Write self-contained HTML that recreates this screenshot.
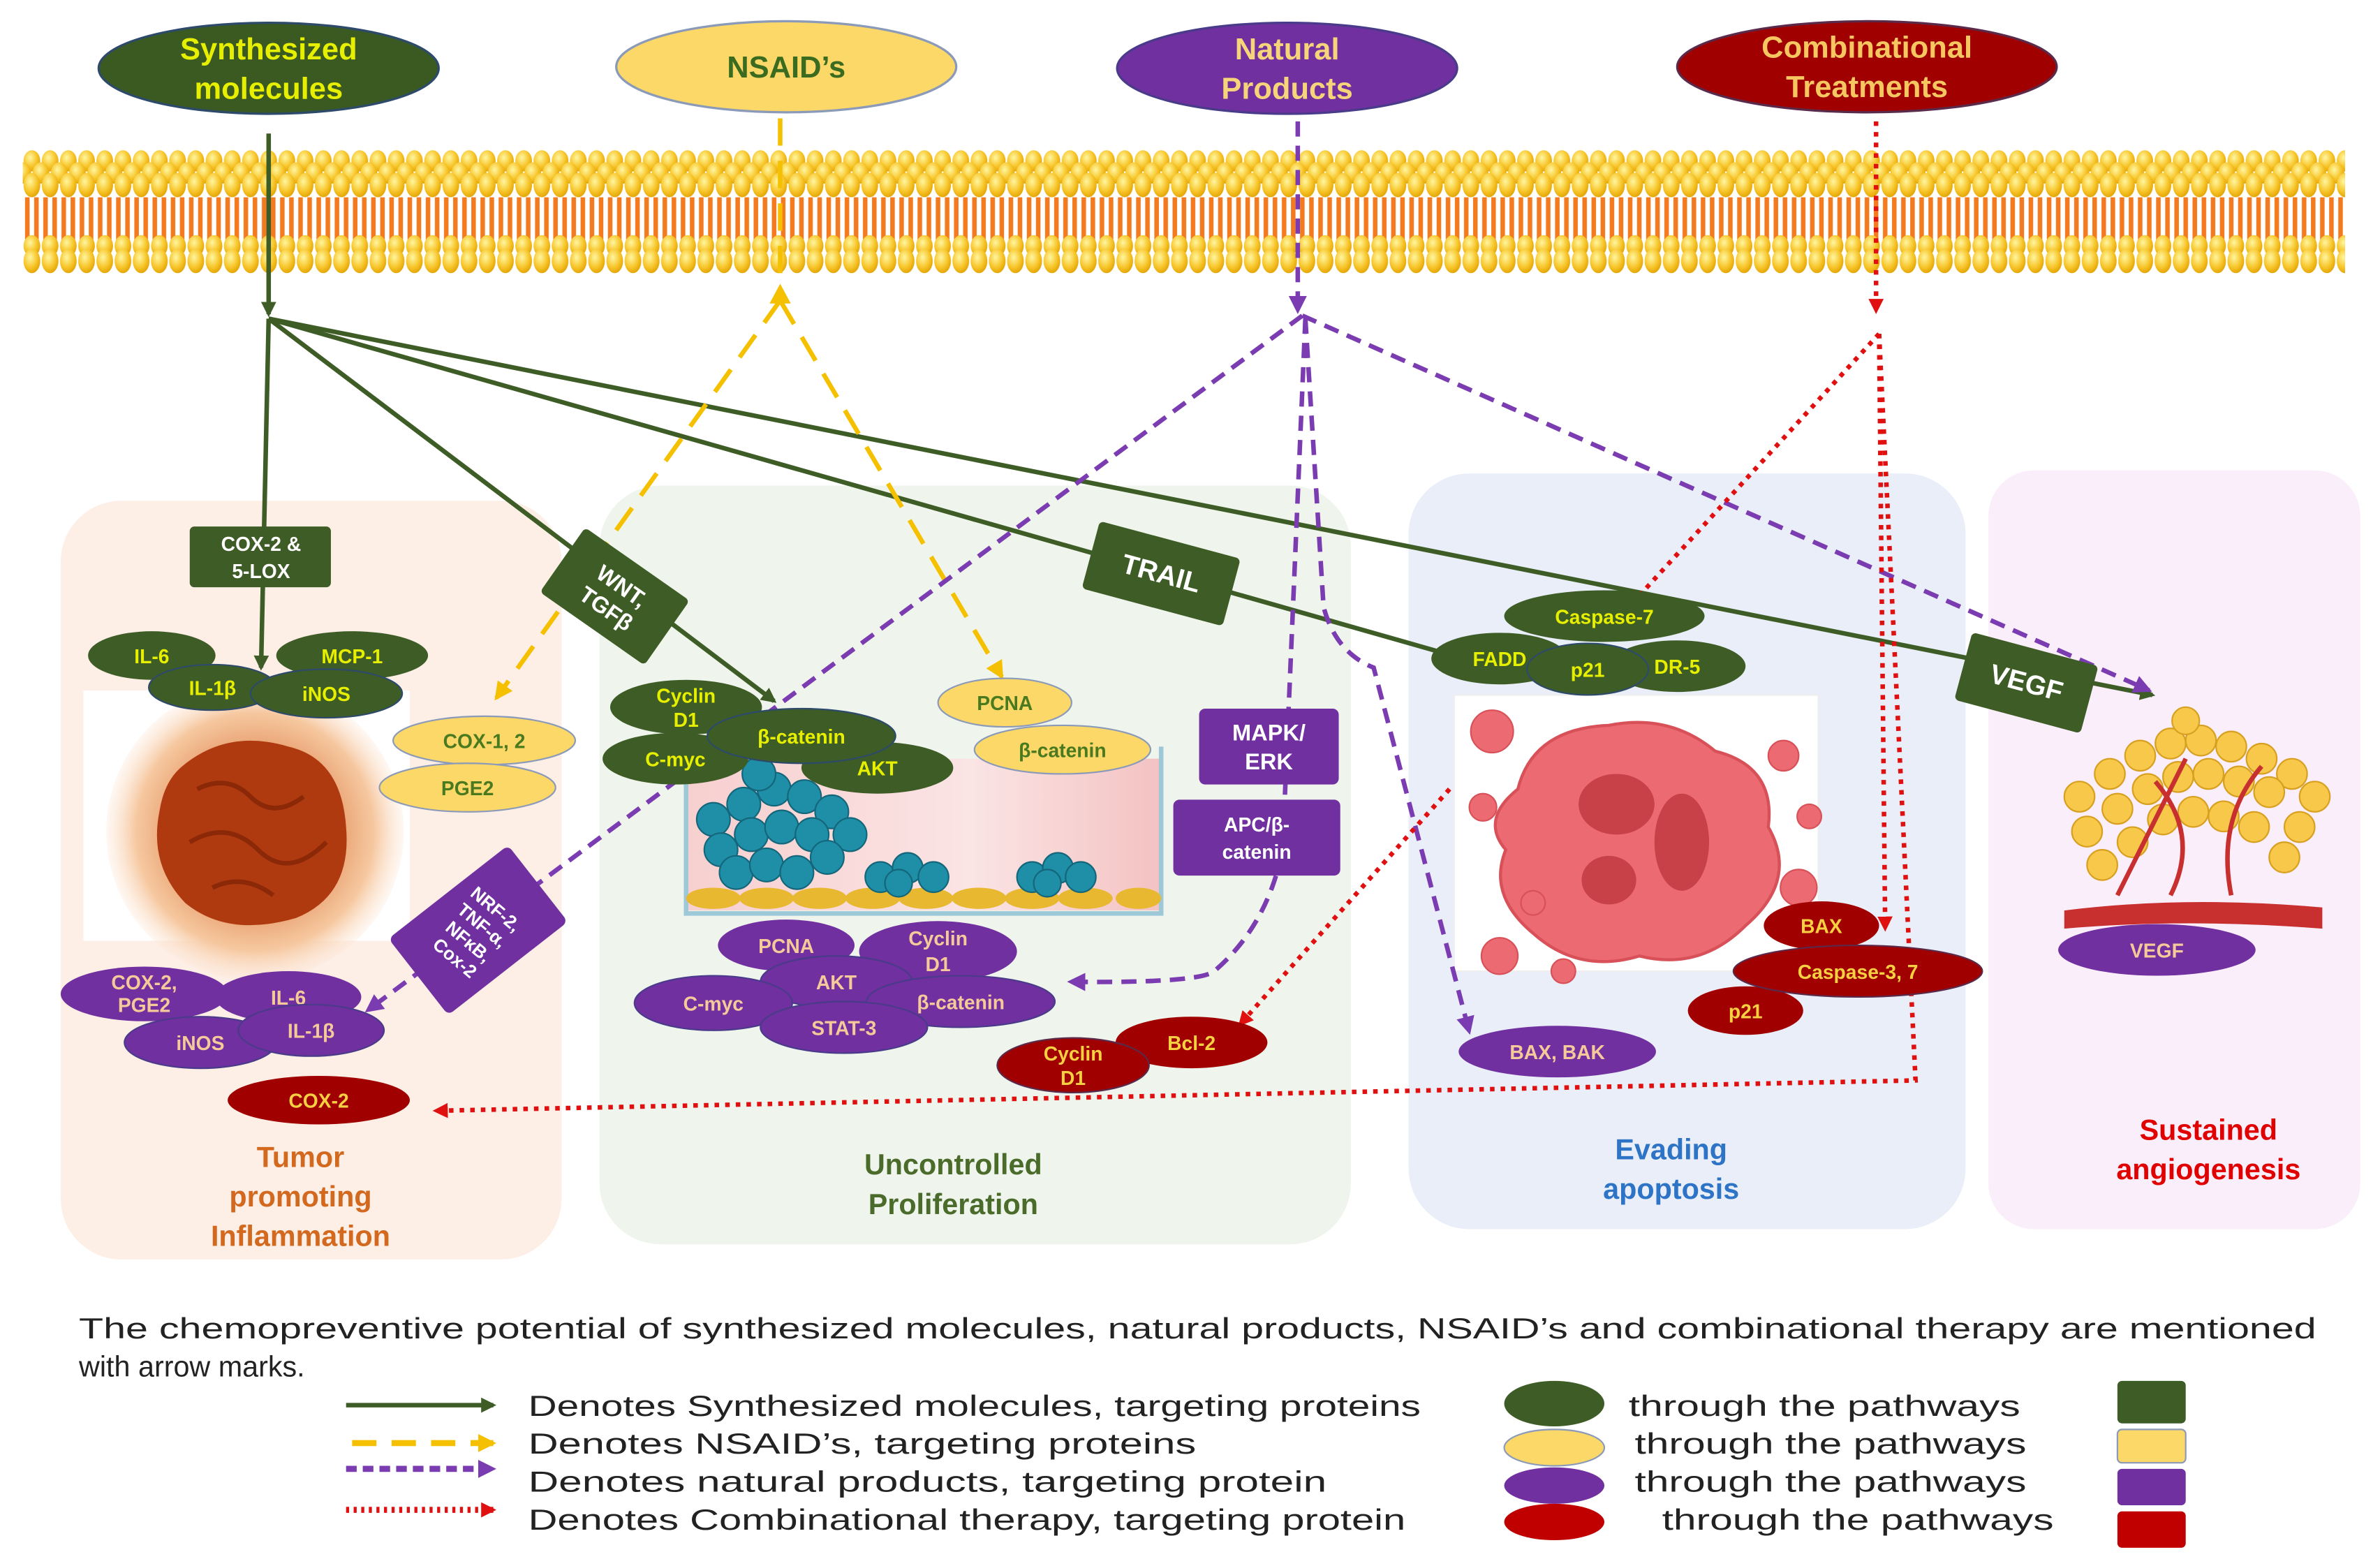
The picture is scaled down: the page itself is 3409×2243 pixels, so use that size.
<!DOCTYPE html>
<html><head><meta charset="utf-8"><style>
html,body{margin:0;padding:0;background:#fff;}
svg{display:block;}
text{font-family:"Liberation Sans",sans-serif;}
</style></head><body>
<svg width="3409" height="2243" viewBox="0 0 1568 1032" preserveAspectRatio="none" xmlns="http://www.w3.org/2000/svg">
<defs>
<radialGradient id="head" cx="0.4" cy="0.35" r="0.7"><stop offset="0" stop-color="#fff6a0"/><stop offset="0.6" stop-color="#f7c52a"/><stop offset="1" stop-color="#e0a000"/></radialGradient>
<pattern id="heads" x="15" y="0" width="12" height="400" patternUnits="userSpaceOnUse">
<ellipse cx="6" cy="106" rx="5.5" ry="7" fill="url(#head)"/>
<ellipse cx="0" cy="114" rx="5.5" ry="7" fill="url(#head)"/><ellipse cx="12" cy="114" rx="5.5" ry="7" fill="url(#head)"/>
<ellipse cx="6" cy="122" rx="5.5" ry="8" fill="url(#head)"/>
<line x1="3" y1="130" x2="3" y2="160" stroke="#f47a20" stroke-width="3"/><line x1="9" y1="130" x2="9" y2="160" stroke="#f47a20" stroke-width="3"/>
<ellipse cx="6" cy="162" rx="5.5" ry="7" fill="url(#head)"/>
<ellipse cx="6" cy="172" rx="5.5" ry="8" fill="url(#head)"/>
</pattern>
<radialGradient id="tum" cx="0.5" cy="0.5" r="0.5"><stop offset="0.55" stop-color="#e8a070"/><stop offset="0.8" stop-color="#f6c8a0"/><stop offset="1" stop-color="#fde6d4" stop-opacity="0.3"/></radialGradient>
<linearGradient id="dish" x1="0" x2="1"><stop offset="0" stop-color="#f7cfcf"/><stop offset="0.6" stop-color="#fbe4e4"/><stop offset="1" stop-color="#f4c2c2"/></linearGradient>
<marker id="ag" markerWidth="10" markerHeight="10" refX="8" refY="5" orient="auto" markerUnits="userSpaceOnUse"><path d="M0,0 L10,5 L0,10 z" fill="#3e5c26"/></marker>
<marker id="ay" markerWidth="12" markerHeight="12" refX="10" refY="6" orient="auto" markerUnits="userSpaceOnUse"><path d="M0,0 L12,6 L0,12 z" fill="#f5c000"/></marker>
<marker id="ap" markerWidth="12" markerHeight="12" refX="10" refY="6" orient="auto" markerUnits="userSpaceOnUse"><path d="M0,0 L12,6 L0,12 z" fill="#7a3cb0"/></marker>
<marker id="ar" markerWidth="10" markerHeight="10" refX="8" refY="5" orient="auto" markerUnits="userSpaceOnUse"><path d="M0,0 L10,5 L0,10 z" fill="#e01010"/></marker>
</defs>

<!-- panels -->
<rect x="40" y="330" width="330" height="500" rx="40" fill="#fdeee6"/>
<rect x="395" y="320" width="495" height="500" rx="40" fill="#eff5ec"/>
<rect x="928" y="312" width="367" height="498" rx="40" fill="#e9eef8"/>
<rect x="1310" y="310" width="245" height="500" rx="30" fill="#fbeefb"/>

<!-- membrane -->
<rect x="15" y="96" width="1530" height="88" fill="url(#heads)"/>

<!-- top ellipses -->
<ellipse cx="177" cy="45" rx="112" ry="30" fill="#3b5a22" stroke="#2d4a6a" stroke-width="1.5"/>
<text x="177" y="39" text-anchor="middle" font-size="20" font-weight="bold" fill="#e6ef00">Synthesized</text>
<text x="177" y="65" text-anchor="middle" font-size="20" font-weight="bold" fill="#e6ef00">molecules</text>
<ellipse cx="518" cy="44" rx="112" ry="30" fill="#fbd868" stroke="#8a9ab8" stroke-width="1.5"/>
<text x="518" y="51" text-anchor="middle" font-size="20" font-weight="bold" fill="#3b6b1f">NSAID’s</text>
<ellipse cx="848" cy="45" rx="112" ry="30" fill="#7030a0" stroke="#4a3a8a" stroke-width="1.5"/>
<text x="848" y="39" text-anchor="middle" font-size="20" font-weight="bold" fill="#f6d57a">Natural</text>
<text x="848" y="65" text-anchor="middle" font-size="20" font-weight="bold" fill="#f6d57a">Products</text>
<ellipse cx="1230" cy="44" rx="125" ry="30" fill="#a00000" stroke="#5a2a4a" stroke-width="1.5"/>
<text x="1230" y="38" text-anchor="middle" font-size="20" font-weight="bold" fill="#f6c760">Combinational</text>
<text x="1230" y="64" text-anchor="middle" font-size="20" font-weight="bold" fill="#f6c760">Treatments</text>

<!-- illustrations -->
<rect x="55" y="455" width="215" height="165" fill="#fff"/>
<circle cx="168" cy="548" r="98" fill="url(#tum)"/>
<path d="M120,505 Q150,480 190,492 Q225,500 228,545 Q232,590 195,605 Q150,618 122,595 Q98,570 105,535 Q108,515 120,505z" fill="#b03a10"/>
<path d="M130,520 q20,-10 35,5 t35,0 M125,555 q25,-15 45,5 t45,-5 M140,585 q20,-10 40,5" stroke="#8a2808" stroke-width="3" fill="none"/>

<rect x="452" y="500" width="313" height="100" fill="url(#dish)"/>
<path d="M452,492 V602 H765 V492" fill="none" stroke="#9cc8d8" stroke-width="3"/>
<g fill="#e8b830"><ellipse cx="470" cy="592" rx="18" ry="7"/><ellipse cx="505" cy="592" rx="18" ry="7"/><ellipse cx="540" cy="592" rx="18" ry="7"/><ellipse cx="575" cy="592" rx="18" ry="7"/><ellipse cx="610" cy="592" rx="18" ry="7"/><ellipse cx="645" cy="592" rx="18" ry="7"/><ellipse cx="680" cy="592" rx="18" ry="7"/><ellipse cx="715" cy="592" rx="18" ry="7"/><ellipse cx="750" cy="592" rx="15" ry="7"/></g>
<g fill="#1f8fa8" stroke="#14667a" stroke-width="1">
<circle cx="470" cy="540" r="11"/><circle cx="490" cy="530" r="11"/><circle cx="510" cy="520" r="11"/><circle cx="530" cy="525" r="11"/><circle cx="548" cy="535" r="11"/><circle cx="560" cy="550" r="11"/>
<circle cx="475" cy="560" r="11"/><circle cx="495" cy="550" r="11"/><circle cx="515" cy="545" r="11"/><circle cx="535" cy="550" r="11"/><circle cx="545" cy="565" r="11"/>
<circle cx="485" cy="575" r="11"/><circle cx="505" cy="570" r="11"/><circle cx="525" cy="575" r="11"/><circle cx="500" cy="510" r="11"/>
<circle cx="580" cy="578" r="10"/><circle cx="598" cy="572" r="10"/><circle cx="615" cy="578" r="10"/><circle cx="592" cy="582" r="9"/>
<circle cx="680" cy="578" r="10"/><circle cx="697" cy="572" r="10"/><circle cx="712" cy="578" r="10"/><circle cx="690" cy="582" r="9"/>
</g>

<rect x="958" y="458" width="240" height="182" fill="#fff" stroke="#eee"/>
<path d="M1000,520 Q1010,480 1060,478 Q1100,470 1130,495 Q1170,505 1165,545 Q1185,580 1150,610 Q1120,640 1080,630 Q1040,642 1010,615 Q980,590 992,560 Q975,540 1000,520z" fill="#ec6a72" stroke="#d85058" stroke-width="2"/>
<ellipse cx="1065" cy="530" rx="25" ry="20" fill="#c84048"/><ellipse cx="1108" cy="555" rx="18" ry="32" fill="#c84048"/><ellipse cx="1060" cy="580" rx="18" ry="16" fill="#c84048"/>
<g fill="#ec6a72" stroke="#d85058"><circle cx="983" cy="482" r="14"/><circle cx="977" cy="532" r="9"/><circle cx="988" cy="630" r="12"/><circle cx="1030" cy="640" r="8"/><circle cx="1185" cy="585" r="12"/><circle cx="1192" cy="538" r="8"/><circle cx="1175" cy="498" r="10"/><circle cx="1010" cy="595" r="8"/></g>

<path d="M1360,600 Q1440,590 1530,598 L1530,612 Q1440,605 1360,612z" fill="#c83030"/>
<g fill="#f7c84a" stroke="#d8a020">
<circle cx="1370" cy="525" r="10"/><circle cx="1390" cy="510" r="10"/><circle cx="1410" cy="498" r="10"/><circle cx="1430" cy="490" r="10"/><circle cx="1450" cy="488" r="10"/><circle cx="1470" cy="492" r="10"/><circle cx="1490" cy="500" r="10"/><circle cx="1510" cy="510" r="10"/><circle cx="1525" cy="525" r="10"/>
<circle cx="1375" cy="548" r="10"/><circle cx="1395" cy="533" r="10"/><circle cx="1415" cy="520" r="10"/><circle cx="1435" cy="512" r="10"/><circle cx="1455" cy="510" r="10"/><circle cx="1475" cy="515" r="10"/><circle cx="1495" cy="522" r="10"/><circle cx="1515" cy="545" r="10"/>
<circle cx="1385" cy="570" r="10"/><circle cx="1405" cy="555" r="10"/><circle cx="1425" cy="540" r="10"/><circle cx="1445" cy="535" r="10"/><circle cx="1465" cy="538" r="10"/><circle cx="1485" cy="545" r="10"/><circle cx="1505" cy="565" r="10"/><circle cx="1440" cy="475" r="9"/>
</g>
<path d="M1395,590 Q1420,540 1440,500 M1470,590 Q1460,540 1490,505 M1430,590 Q1450,550 1420,515" stroke="#c83030" stroke-width="3" fill="none"/>

<!-- green arrows -->
<g stroke="#3e5c26" stroke-width="3" fill="none">
<line x1="177" y1="88" x2="177" y2="207" marker-end="url(#ag)"/>
<line x1="177" y1="210" x2="172" y2="440" marker-end="url(#ag)"/>
<line x1="177" y1="210" x2="510" y2="462" marker-end="url(#ag)"/>
<line x1="177" y1="210" x2="1418" y2="458" marker-end="url(#ag)"/>
<line x1="177" y1="210" x2="950" y2="430"/>
</g>
<!-- yellow -->
<g stroke="#f5c000" stroke-width="3" fill="none" stroke-dasharray="18,10">
<line x1="514" y1="78" x2="514" y2="190"/>
<line x1="514" y1="198" x2="327" y2="460" marker-end="url(#ay)"/>
<line x1="514" y1="198" x2="660" y2="446" marker-end="url(#ay)"/>
</g>
<path d="M507,200 L514,187 L521,200z" fill="#f5c000"/>
<!-- purple -->
<g stroke="#7a3cb0" stroke-width="3" fill="none" stroke-dasharray="10,6">
<line x1="855" y1="80" x2="855" y2="205" marker-end="url(#ap)"/>
<line x1="858" y1="208" x2="242" y2="666" marker-end="url(#ap)"/>
<line x1="858" y1="208" x2="1416" y2="455" marker-end="url(#ap)"/>
<path d="M860,210 L872,400 Q880,430 905,440 L968,680" marker-end="url(#ap)"/>
<path d="M860,210 L845,560 Q835,610 800,640 Q790,648 705,647" marker-end="url(#ap)"/>
</g>
<!-- red -->
<g stroke="#e01010" stroke-width="3" fill="none" stroke-dasharray="3,4">
<line x1="1236" y1="80" x2="1236" y2="205" marker-end="url(#ar)"/>
<line x1="1238" y1="220" x2="1075" y2="398"/>
<line x1="1238" y1="220" x2="1242" y2="612" marker-end="url(#ar)"/>
<path d="M1238,220 L1262,712 L287,732" marker-end="url(#ar)"/>
<line x1="955" y1="520" x2="817" y2="675" marker-end="url(#ar)"/>
</g>

<!-- green nodes -->
<g font-size="13" font-weight="bold" text-anchor="middle" fill="#e6ef00">
<rect x="125" y="347" width="93" height="40" rx="3" fill="#3e5c26"/>
<text x="172" y="363" fill="#fff">COX-2 &amp;</text><text x="172" y="381" fill="#fff">5-LOX</text>
<ellipse cx="100" cy="432" rx="42" ry="16" fill="#3e5c26"/><text x="100" y="437">IL-6</text>
<ellipse cx="232" cy="432" rx="50" ry="16" fill="#3e5c26"/><text x="232" y="437">MCP-1</text>
<ellipse cx="140" cy="453" rx="42" ry="15" fill="#3e5c26" stroke="#2d4a6a"/><text x="140" y="458">IL-1β</text>
<ellipse cx="215" cy="457" rx="50" ry="16" fill="#3e5c26" stroke="#2d4a6a"/><text x="215" y="462">iNOS</text>
<g transform="translate(405,393) rotate(35)"><rect x="-42" y="-26" width="84" height="52" rx="3" fill="#3e5c26"/><text x="0" y="-3" fill="#fff" font-size="15">WNT,</text><text x="0" y="15" fill="#fff" font-size="15">TGFβ</text></g>
<g transform="translate(765,378) rotate(15)"><rect x="-48" y="-23" width="96" height="46" rx="3" fill="#3e5c26"/><text x="0" y="6" fill="#fff" font-size="18">TRAIL</text></g>
<g transform="translate(1335,450) rotate(15)"><rect x="-43" y="-23" width="86" height="46" rx="3" fill="#3e5c26"/><text x="0" y="6" fill="#fff" font-size="18">VEGF</text></g>
<ellipse cx="452" cy="466" rx="50" ry="18" fill="#3e5c26"/><text x="452" y="463">Cyclin</text><text x="452" y="479">D1</text>
<ellipse cx="445" cy="500" rx="48" ry="17" fill="#3e5c26"/><text x="445" y="505">C-myc</text>
<ellipse cx="578" cy="506" rx="50" ry="17" fill="#3e5c26"/><text x="578" y="511">AKT</text>
<ellipse cx="528" cy="485" rx="62" ry="18" fill="#3e5c26" stroke="#2d4a6a"/><text x="528" y="490">β-catenin</text>
<ellipse cx="1057" cy="406" rx="66" ry="17" fill="#3e5c26"/><text x="1057" y="411">Caspase-7</text>
<ellipse cx="988" cy="434" rx="45" ry="17" fill="#3e5c26"/><text x="988" y="439">FADD</text>
<ellipse cx="1105" cy="439" rx="45" ry="17" fill="#3e5c26"/><text x="1105" y="444">DR-5</text>
<ellipse cx="1046" cy="441" rx="40" ry="17" fill="#3e5c26" stroke="#2d4a6a"/><text x="1046" y="446">p21</text>
</g>
<!-- yellow nodes -->
<g font-size="13" font-weight="bold" text-anchor="middle" fill="#4a7a20">
<ellipse cx="319" cy="488" rx="60" ry="16" fill="#fbd868" stroke="#8a9ab8"/><text x="319" y="493">COX-1, 2</text>
<ellipse cx="308" cy="519" rx="58" ry="16" fill="#fbd868" stroke="#8a9ab8"/><text x="308" y="524">PGE2</text>
<ellipse cx="662" cy="463" rx="44" ry="16" fill="#fbd868" stroke="#8a9ab8"/><text x="662" y="468">PCNA</text>
<ellipse cx="700" cy="494" rx="58" ry="16" fill="#fbd868" stroke="#8a9ab8"/><text x="700" y="499">β-catenin</text>
</g>
<!-- purple nodes -->
<g font-size="13" font-weight="bold" text-anchor="middle" fill="#f6c99a">
<g transform="translate(315,613) rotate(-38)"><rect x="-50" y="-32" width="100" height="64" rx="4" fill="#7030a0"/>
<g transform="rotate(78)" fill="#fff" font-size="12"><text x="0" y="-14">NRF-2,</text><text x="0" y="0">TNF-α,</text><text x="0" y="14">NFκB,</text><text x="0" y="28">Cox-2</text></g></g>
<rect x="790" y="467" width="92" height="50" rx="4" fill="#7030a0"/><text x="836" y="488" fill="#fff" font-size="15">MAPK/</text><text x="836" y="507" fill="#fff" font-size="15">ERK</text>
<rect x="773" y="527" width="110" height="50" rx="4" fill="#7030a0"/><text x="828" y="548" fill="#fff">APC/β-</text><text x="828" y="566" fill="#fff">catenin</text>
<ellipse cx="95" cy="655" rx="55" ry="18" fill="#7030a0"/><text x="95" y="652">COX-2,</text><text x="95" y="667">PGE2</text>
<ellipse cx="190" cy="657" rx="48" ry="17" fill="#7030a0"/><text x="190" y="662">IL-6</text>
<ellipse cx="132" cy="687" rx="50" ry="17" fill="#7030a0" stroke="#4a3a8a"/><text x="132" y="692">iNOS</text>
<ellipse cx="205" cy="679" rx="48" ry="17" fill="#7030a0" stroke="#4a3a8a"/><text x="205" y="684">IL-1β</text>
<ellipse cx="518" cy="623" rx="45" ry="17" fill="#7030a0"/><text x="518" y="628">PCNA</text>
<ellipse cx="618" cy="627" rx="52" ry="20" fill="#7030a0"/><text x="618" y="623">Cyclin</text><text x="618" y="640">D1</text>
<ellipse cx="551" cy="647" rx="50" ry="17" fill="#7030a0" stroke="#4a3a8a"/><text x="551" y="652">AKT</text>
<ellipse cx="470" cy="661" rx="52" ry="18" fill="#7030a0" stroke="#4a3a8a"/><text x="470" y="666">C-myc</text>
<ellipse cx="633" cy="660" rx="62" ry="17" fill="#7030a0" stroke="#4a3a8a"/><text x="633" y="665">β-catenin</text>
<ellipse cx="556" cy="677" rx="55" ry="17" fill="#7030a0" stroke="#4a3a8a"/><text x="556" y="682">STAT-3</text>
<ellipse cx="1026" cy="693" rx="65" ry="17" fill="#7030a0"/><text x="1026" y="698">BAX, BAK</text>
<ellipse cx="1421" cy="626" rx="65" ry="17" fill="#7030a0"/><text x="1421" y="631">VEGF</text>
</g>
<!-- red nodes -->
<g font-size="13" font-weight="bold" text-anchor="middle" fill="#f6d040">
<ellipse cx="210" cy="725" rx="60" ry="16" fill="#a00000"/><text x="210" y="730">COX-2</text>
<ellipse cx="785" cy="687" rx="50" ry="17" fill="#a00000"/><text x="785" y="692">Bcl-2</text>
<ellipse cx="707" cy="702" rx="50" ry="18" fill="#a00000" stroke="#5a2a4a"/><text x="707" y="699">Cyclin</text><text x="707" y="715">D1</text>
<ellipse cx="1200" cy="610" rx="38" ry="16" fill="#a00000"/><text x="1200" y="615">BAX</text>
<ellipse cx="1150" cy="666" rx="38" ry="16" fill="#a00000"/><text x="1150" y="671">p21</text>
<ellipse cx="1224" cy="640" rx="82" ry="17" fill="#a00000" stroke="#5a2a4a"/><text x="1224" y="645">Caspase-3, 7</text>
</g>

<!-- panel labels -->
<g font-size="19" font-weight="bold" text-anchor="middle">
<text x="198" y="769" fill="#d2691e">Tumor</text><text x="198" y="795" fill="#d2691e">promoting</text><text x="198" y="821" fill="#d2691e">Inflammation</text>
<text x="628" y="774" fill="#4a6b2a">Uncontrolled</text><text x="628" y="800" fill="#4a6b2a">Proliferation</text>
<text x="1101" y="764" fill="#2e74c6">Evading</text><text x="1101" y="790" fill="#2e74c6">apoptosis</text>
<text x="1455" y="751" fill="#e00000">Sustained</text><text x="1455" y="777" fill="#e00000">angiogenesis</text>
</g>

<!-- legend -->
<g font-size="19" fill="#222">
<text x="52" y="882" textLength="1474" lengthAdjust="spacingAndGlyphs">The chemopreventive potential of synthesized molecules, natural products, NSAID’s and combinational therapy are mentioned</text>
<text x="52" y="907">with arrow marks.</text>
<text x="348" y="933" textLength="588" lengthAdjust="spacingAndGlyphs">Denotes Synthesized molecules, targeting proteins</text>
<text x="348" y="958" textLength="440" lengthAdjust="spacingAndGlyphs">Denotes NSAID’s,     targeting proteins</text>
<text x="348" y="983" textLength="526" lengthAdjust="spacingAndGlyphs">Denotes natural products,    targeting protein</text>
<text x="348" y="1008" textLength="578" lengthAdjust="spacingAndGlyphs">Denotes Combinational therapy, targeting protein</text>
<text x="1073" y="933" textLength="258" lengthAdjust="spacingAndGlyphs">through the pathways</text>
<text x="1077" y="958" textLength="258" lengthAdjust="spacingAndGlyphs">through the pathways</text>
<text x="1077" y="983" textLength="258" lengthAdjust="spacingAndGlyphs">through the pathways</text>
<text x="1095" y="1008" textLength="258" lengthAdjust="spacingAndGlyphs">through the pathways</text>
</g>
<line x1="228" y1="926" x2="325" y2="926" stroke="#3e5c26" stroke-width="3" marker-end="url(#ag)"/>
<line x1="232" y1="951" x2="325" y2="951" stroke="#f5c000" stroke-width="4" stroke-dasharray="16,10" marker-end="url(#ay)"/>
<line x1="228" y1="968" x2="325" y2="968" stroke="#7a3cb0" stroke-width="4" stroke-dasharray="7,4" marker-end="url(#ap)"/>
<line x1="228" y1="995" x2="325" y2="995" stroke="#e01010" stroke-width="4" stroke-dasharray="2,3" marker-end="url(#ar)"/>
<ellipse cx="1024" cy="925" rx="33" ry="15" fill="#3e5c26"/>
<ellipse cx="1024" cy="954" rx="33" ry="12" fill="#fbd868" stroke="#8a9ab8"/>
<ellipse cx="1024" cy="979" rx="33" ry="12" fill="#7030a0"/>
<ellipse cx="1024" cy="1003" rx="33" ry="12" fill="#c00000"/>
<rect x="1395" y="910" width="45" height="28" rx="3" fill="#3e5c26"/>
<rect x="1395" y="942" width="45" height="22" rx="3" fill="#fbd868" stroke="#8a9ab8"/>
<rect x="1395" y="968" width="45" height="24" rx="3" fill="#7030a0"/>
<rect x="1395" y="996" width="45" height="24" rx="3" fill="#c00000"/>
</svg>
</body></html>
